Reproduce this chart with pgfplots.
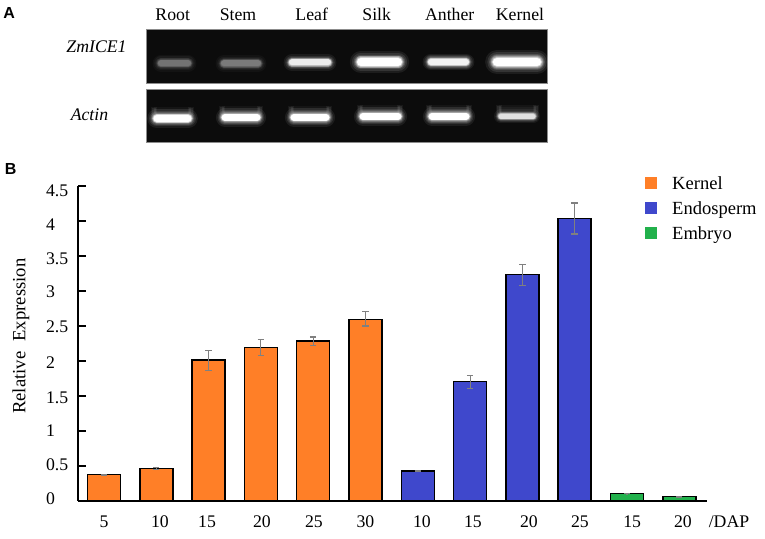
\documentclass[border=0pt]{standalone}
\usepackage{fontspec}
\setmainfont{Liberation Serif}
\newfontfamily\panelfont{Liberation Sans}
\usepackage{pgfplots}
\usepackage{pgfplotstable}
\pgfplotsset{compat=1.18}

\definecolor{kernelc}{HTML}{FF7F27}
\definecolor{endoc}{HTML}{3F48CC}
\definecolor{embryoc}{HTML}{22B14C}
\definecolor{gelbg}{HTML}{0C0C0C}
\definecolor{errc}{HTML}{808080}
\newcommand{\lab}{\fontsize{13.3}{16}\selectfont}

% x = bar index, y = relative expression, ep/em = error up/down
\pgfplotstableread{
x y ep em
0 0.376 0.008 0.008
1 0.462 0.012 0.012
2 2.014 0.130 0.150
3 2.195 0.114 0.114
4 2.286 0.057 0.062
5 2.595 0.110 0.095
}\kernel
\pgfplotstableread{
x y ep em
6 0.430 0.008 0.008
7 1.705 0.090 0.100
8 3.233 0.148 0.152
9 4.033 0.224 0.219
}\endosperm
\pgfplotstableread{
x y ep em
10 0.105 0.004 0.004
11 0.062 0.008 0.008
}\embryo

\pgfplotsset{
  series/.style={
    ybar, bar shift=0pt, bar width=24.75pt, fill=#1, draw=black, line width=1.1pt,
    forget plot,
    error bars/.cd, y dir=both, y explicit,
    error bar style={draw=errc, line width=0.8pt},
    error mark options={rotate=90, mark size=2.4pt, draw=errc, line width=0.8pt},
  },
  swatch/.style={
    legend image code/.code={\fill[#1] (0pt,-3pt) rectangle (8.25pt,5pt); \path[draw=none] (0pt,0pt) -- (18pt,0pt);},
  },
}

% glow of one gel band: x1, x2, y, thickness in pt, colour
\newcommand{\gelband}[5]{%
  \addplot[forget plot, #5, line cap=round, opacity=0.07, line width={#4*2.1pt}] coordinates {(#1,#3) (#2,#3)};
  \addplot[forget plot, #5, line cap=round, opacity=0.10, line width={#4*1.7pt}] coordinates {(#1,#3) (#2,#3)};
  \addplot[forget plot, #5, line cap=round, opacity=0.14, line width={#4*1.4pt}] coordinates {(#1,#3) (#2,#3)};
  \addplot[forget plot, #5, line cap=round, opacity=0.20, line width={#4*1.2pt}] coordinates {(#1,#3) (#2,#3)};
  \addplot[forget plot, #5, line cap=round, opacity=0.30, line width={#4*1.05pt}] coordinates {(#1,#3) (#2,#3)};
  \addplot[forget plot, #5, line cap=round, opacity=0.50, line width={#4*0.9pt}] coordinates {(#1,#3) (#2,#3)};
  \addplot[forget plot, #5, line cap=round, line width={#4*0.75pt}] coordinates {(#1,#3) (#2,#3)};
}
% faint upward curl at the ends of an actin band
\newcommand{\gelsmile}[3]{%
  \addplot[forget plot, white, opacity=0.05, line width=5pt, line join=round] coordinates {(#1,#3-10) (#1,#3) (#2,#3) (#2,#3-10)};
  \addplot[forget plot, white, opacity=0.08, line width=2.5pt, line join=round] coordinates {(#1,#3-9) (#1,#3) (#2,#3) (#2,#3-9)};
  \addplot[forget plot, white, opacity=0.04, line width=7pt] coordinates {(#1,#3-6) (#2,#3-6)};
  \addplot[forget plot, white, opacity=0.04, line width=4pt] coordinates {(#1,#3-6) (#2,#3-6)};
}

\begin{document}
\begin{tikzpicture}[x=1pt,y=1pt]
\path[use as bounding box] (0pt,0pt) rectangle (573.75pt,404.25pt);

\begin{axis}[
  name=main,
  at={(58.5pt,28.5pt)}, anchor=south west,
  scale only axis, width=471.75pt, height=236.25pt,
  xmin=-0.497, xmax=11.53, ymin=0, ymax=4.5,
  axis x line*=bottom, axis y line*=left,
  axis line style={line width=1.5pt, -},
  tick align=inside, tick style={black, line width=0.9pt},
  major tick length=6pt,
  xtick={0,1.07,1.97,3.02,4.015,5,6.08,7.055,8.126,9.10,10.1,11.07},
  xticklabels={5,10,15,20,25,30,10,15,20,25,15,20},
  x tick style={draw=none},
  x tick label style={font=\lab, anchor=base, yshift=-20pt},
  ytick={0,0.5,...,4.5},
  yticklabels={\raisebox{1.5pt}{0},\raisebox{0.3pt}{0.5},\raisebox{-0.5pt}{1},\raisebox{-1.7pt}{1.5},\raisebox{-2pt}{2},\raisebox{-1pt}{2.5},\raisebox{-1pt}{3},\raisebox{-2.5pt}{3.5},\raisebox{-3pt}{4},\raisebox{-4.2pt}{4.5}},
  y tick label style={font=\lab, anchor=base west, xshift=-27.5pt, yshift=-4pt},
  ylabel={Relative\hspace{7.5pt}Expression},
  ylabel style={font=\fontsize{14}{16}\selectfont, at={(axis description cs:0,0.5)}, anchor=south, yshift=33pt, xshift=5.5pt},
  legend style={draw=none, fill=none, at={(axis cs:10.345,4.675)}, anchor=north west,
    font=\fontsize{13.9}{16}\selectfont, row sep=3.5pt, inner sep=0pt},
  legend cell align=left,
]
\addplot[series=kernelc] table[x=x, y=y, y error plus=ep, y error minus=em] {\kernel};
\addplot[series=endoc] table[x=x, y=y, y error plus=ep, y error minus=em] {\endosperm};
\addplot[series=embryoc] table[x=x, y=y, y error plus=ep, y error minus=em] {\embryo};
\addlegendimage{swatch=kernelc}
\addlegendentry{Kernel}
\addlegendimage{swatch=endoc}
\addlegendentry{Endosperm}
\addlegendimage{swatch=embryoc}
\addlegendentry{Embryo}
\end{axis}

% panel A and the loose labels, in reference pixels
\begin{axis}[
  at={(0pt,0pt)}, anchor=south west,
  scale only axis, width=573.75pt, height=404.25pt,
  xmin=0, xmax=765, ymin=0, ymax=539, y dir=reverse,
  hide axis, clip=false,
]
\addplot[forget plot, fill=gelbg, draw=black!45, line width=0.6pt] coordinates {(146,29) (547,29) (547,83.5) (146,83.5)} -- cycle;
\addplot[forget plot, fill=gelbg, draw=black!45, line width=0.6pt] coordinates {(146,89.5) (547,89.5) (547,142.7) (146,142.7)} -- cycle;

\gelband{161}{188}{63.3}{6}{black!55}
\gelband{224}{258}{63.5}{6}{black!52}
\gelband{292}{328}{62.5}{6}{black!8}
\gelband{361}{398}{62}{8}{white}
\gelband{431}{466}{62}{6}{black!5}
\gelband{497}{537}{62}{8.5}{white}

\gelsmile{154}{191}{117.5}
\gelsmile{222}{260}{116.5}
\gelsmile{291}{329}{116.5}
\gelsmile{360}{400}{115.5}
\gelsmile{429}{469}{115.5}
\gelsmile{499}{536}{115.5}
\gelband{157}{188}{118.5}{7}{white}
\gelband{225}{257}{117.5}{6.5}{white}
\gelband{294}{326}{117.5}{6.5}{white}
\gelband{363}{398}{116.5}{6.5}{white}
\gelband{432}{466}{116.5}{6.5}{white}
\gelband{501}{533}{116.5}{5}{black!12}

\node[anchor=base, font=\lab] at (axis cs:172.7,20.7) {Root};
\node[anchor=base, font=\lab] at (axis cs:238,20.7) {Stem};
\node[anchor=base, font=\lab] at (axis cs:311.7,20.7) {Leaf};
\node[anchor=base, font=\lab] at (axis cs:376.7,20.7) {Silk};
\node[anchor=base, font=\lab] at (axis cs:449.7,20.7) {Anther};
\node[anchor=base, font=\lab] at (axis cs:520,20.7) {Kernel};
\node[anchor=base, font=\lab\itshape] at (axis cs:96.5,52.7) {ZmICE1};
\node[anchor=base, font=\lab\itshape] at (axis cs:89.5,120.7) {Actin};
\node[anchor=base, font=\lab] at (axis cs:729,527) {/DAP};
\node[anchor=base west, inner sep=0pt, font=\panelfont\bfseries\fontsize{12}{14}\selectfont] at (axis cs:3,18.5) {A};
\node[anchor=base west, inner sep=0pt, font=\panelfont\bfseries\fontsize{12}{14}\selectfont] at (axis cs:4.5,175) {B};
\end{axis}
\end{tikzpicture}
\end{document}
